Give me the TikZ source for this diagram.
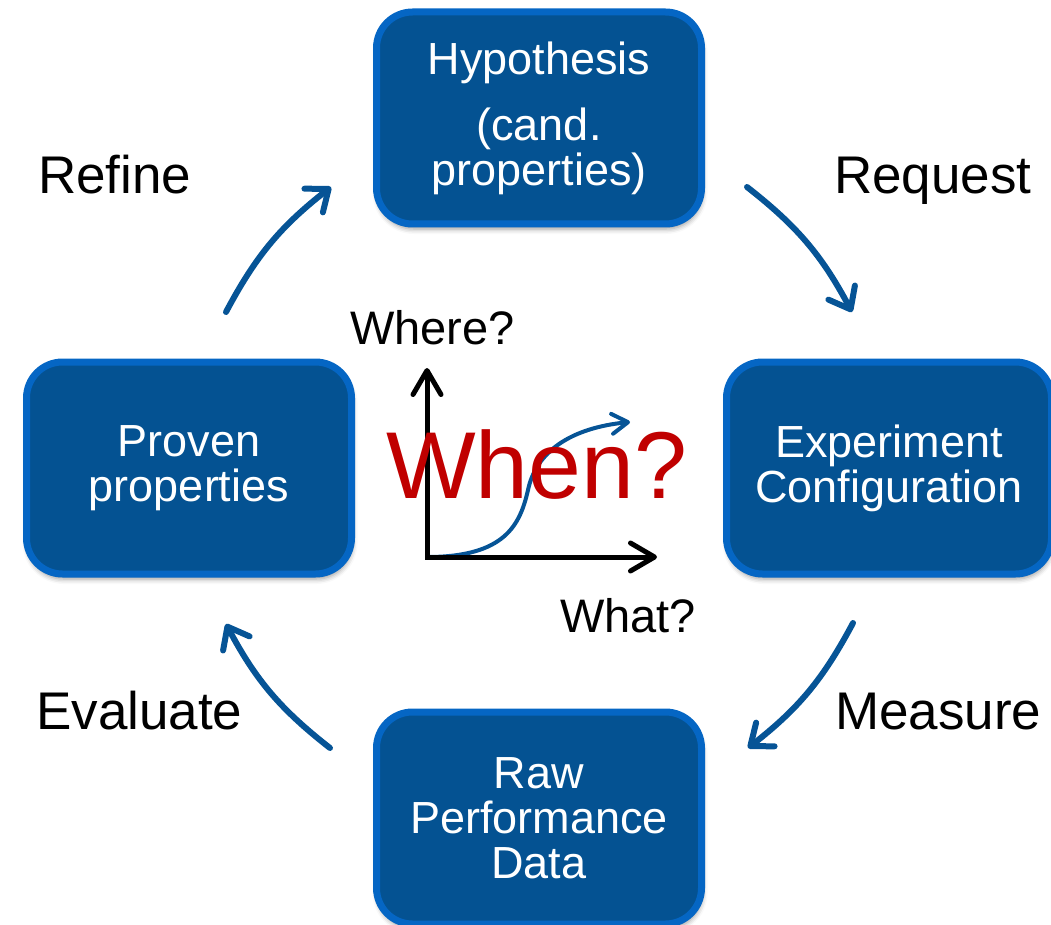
\documentclass[tikz,border=0pt]{standalone}
\usepackage{fontspec}
\setmainfont{Liberation Sans}
\usetikzlibrary{arrows.meta,shadows.blur}

\definecolor{boxfill}{RGB}{4,82,146}
\definecolor{boxline}{RGB}{5,102,196}
\definecolor{flowblue}{RGB}{6,84,150}
\definecolor{whenred}{RGB}{192,0,0}

\begin{document}
\begin{tikzpicture}[x=1pt,y=-1pt,
  stage/.style={draw=boxline, line width=7pt, fill=boxfill,
    rounded corners=36pt, minimum width=325pt, minimum height=212pt,
    text=white, align=center, font=\fontsize{45}{45}\selectfont,
    blur shadow={shadow xshift=1pt, shadow yshift=-5pt,
      shadow blur radius=5pt, shadow opacity=40}},
  steplabel/.style={anchor=base west, inner sep=0pt,
    font=\fontsize{53}{53}\selectfont},
  axislabel/.style={anchor=base west, inner sep=0pt,
    font=\fontsize{47}{47}\selectfont},
  cyclearrow/.style={draw=flowblue, line width=6pt, line cap=round,
    -{Straight Barb[length=19pt,width=30pt,round]}, bend left=12},
  axisline/.style={draw=black, line width=5pt, line join=miter,
    {Straight Barb[length=24pt,width=28pt,round]}-{Straight Barb[length=24pt,width=28pt,round]}},
  trendline/.style={draw=flowblue, line width=4pt, line cap=round,
    -{Straight Barb[length=16pt,width=20pt,round]}}
]
\useasboundingbox (0,0) rectangle (1051,925);

% the four stages of the cycle
\node[stage] (hyp)  at (539,118) {Hypothesis\\[21pt](cand.\\properties)};
\node[stage] (exp)  at (889,468) {Experiment\\Configuration};
\node[stage] (raw)  at (539,818) {Raw\\Performance\\Data};
\node[stage] (prov) at (189,468) {Proven\\properties};

% ends of the curved cycle arrows
\coordinate (refA) at (226,312);
\coordinate (refB) at (331,187);
\coordinate (reqA) at (747,187);
\coordinate (reqB) at (852,312);
\coordinate (meaA) at (853,623);
\coordinate (meaB) at (748,748);
\coordinate (evaA) at (330,748);
\coordinate (evaB) at (226,624);

\draw[cyclearrow] (refA) to (refB);
\draw[cyclearrow] (reqA) to (reqB);
\draw[cyclearrow] (meaA) to (meaB);
\draw[cyclearrow] (evaA) to (evaB);

% step labels
\node[steplabel] (lref) at (38,194)  {Refine};
\node[steplabel] (lreq) at (834,194) {Request};
\node[steplabel] (lmea) at (835,729) {Measure};
\node[steplabel] (leva) at (36,729)  {Evaluate};

% small chart in the middle
\coordinate (orig) at (427,557);
\coordinate (ytip) at (427,368);
\coordinate (xtip) at (657,557);
\coordinate (ctip) at (630,422);

\draw[trendline] (orig) .. controls (505,557) and (520,525) .. (528,490)
  .. controls (536,452) and (570,428) .. (ctip);
\draw[axisline] (ytip) -- (orig) -- (xtip);

\node[axislabel] (where) at (350,344) {Where?};
\node[axislabel] (what)  at (560,632) {What?};
\node[anchor=base west, inner sep=0pt, text=whenred,
  font=\fontsize{95}{95}\selectfont] (when) at (386,498) {When?};
\end{tikzpicture}
\end{document}
